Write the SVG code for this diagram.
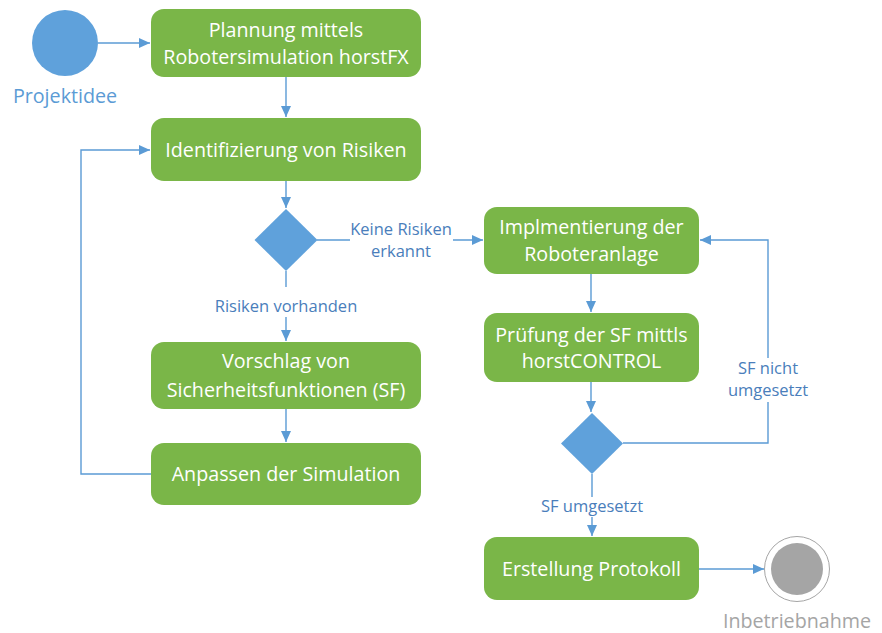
<svg xmlns="http://www.w3.org/2000/svg" width="882" height="633" viewBox="0 0 882 633">
<style>
.box{fill:#7AB648;}
.bt{font-family:"Open Sans","Noto Sans",sans-serif;font-size:19.7px;fill:#ffffff;text-anchor:middle;}
.dec{fill:#5FA1DB;}
.ln{fill:none;stroke:#5B9BD5;stroke-width:1.4;}
.lb{font-family:"Open Sans","Noto Sans",sans-serif;font-size:16.5px;fill:#4A7EBB;text-anchor:middle;}
.lbg{fill:#ffffff;}
</style>
<defs>
<marker id="ah" markerUnits="userSpaceOnUse" markerWidth="12" markerHeight="12" viewBox="0 0 12 12" refX="11" refY="6" orient="auto">
<path d="M0,1 L11,6 L0,11 Z" fill="#5B9BD5"/>
</marker>
</defs>
<g id="connectors">
<path class="ln" d="M98,43 H150" marker-end="url(#ah)"/>
<path class="ln" d="M286,77 V117" marker-end="url(#ah)"/>
<path class="ln" d="M286,181 V208" marker-end="url(#ah)"/>
<path class="ln" d="M317,240 H483" marker-end="url(#ah)"/>
<path class="ln" d="M286,271 V341" marker-end="url(#ah)"/>
<path class="ln" d="M286,409 V442" marker-end="url(#ah)"/>
<path class="ln" d="M151,474 H81 V150 H150" marker-end="url(#ah)"/>
<path class="ln" d="M591,274 V312" marker-end="url(#ah)"/>
<path class="ln" d="M591,382 V412" marker-end="url(#ah)"/>
<path class="ln" d="M623,443 H768 V240 H700" marker-end="url(#ah)"/>
<path class="ln" d="M592,474 V536" marker-end="url(#ah)"/>
<path class="ln" d="M699,569 H764" marker-end="url(#ah)"/>
<rect class="lbg" x="350" y="218" width="103" height="44"/>
<text class="lb" x="401" y="235">Keine Risiken</text>
<text class="lb" x="401" y="257">erkannt</text>
<rect class="lbg" x="210" y="287" width="152" height="30"/>
<text class="lb" x="286" y="312">Risiken vorhanden</text>
<rect class="lbg" x="719" y="358" width="98" height="44"/>
<text class="lb" x="768" y="374">SF nicht</text>
<text class="lb" x="768" y="396">umgesetzt</text>
<rect class="lbg" x="536" y="497" width="112" height="20"/>
<text class="lb" x="592" y="512">SF umgesetzt</text>
</g>
<g id="start">
<circle cx="65" cy="43" r="33" fill="#5FA1DB"/>
<text x="65" y="103" font-family="'Open Sans','Noto Sans',sans-serif" font-size="19.7" fill="#5B9BD5" text-anchor="middle">Projektidee</text>
</g>
<g id="planung">
<rect class="box" x="151" y="9" width="270" height="68" rx="13"/>
<text class="bt" x="286" y="36.5">Plannung mittels</text>
<text class="bt" x="286" y="63.5">Robotersimulation horstFX</text>
</g>
<g id="identifizierung">
<rect class="box" x="151" y="118" width="270" height="63" rx="13"/>
<text class="bt" x="286" y="157">Identifizierung von Risiken</text>
</g>
<g id="decision1">
<polygon class="dec" points="286,209 317.5,240 286,271 254.5,240"/>
</g>
<g id="vorschlag">
<rect class="box" x="151" y="342" width="270" height="67" rx="13"/>
<text class="bt" x="286" y="368">Vorschlag von</text>
<text class="bt" x="286" y="396.5">Sicherheitsfunktionen (SF)</text>
</g>
<g id="anpassen">
<rect class="box" x="151" y="443" width="270" height="62" rx="13"/>
<text class="bt" x="286" y="480.5">Anpassen der Simulation</text>
</g>
<g id="implementierung">
<rect class="box" x="484" y="207" width="215" height="67" rx="13"/>
<text class="bt" x="591.5" y="234">Implmentierung der</text>
<text class="bt" x="591.5" y="260.5">Roboteranlage</text>
</g>
<g id="pruefung">
<rect class="box" x="484" y="313" width="215" height="69" rx="13"/>
<text class="bt" x="591.5" y="341.5">Prüfung der SF mittls</text>
<text class="bt" x="591.5" y="368">horstCONTROL</text>
</g>
<g id="decision2">
<polygon class="dec" points="592,413 623,443.5 592,474 561,443.5"/>
</g>
<g id="erstellung">
<rect class="box" x="484" y="537" width="215" height="63" rx="13"/>
<text class="bt" x="591.5" y="576">Erstellung Protokoll</text>
</g>
<g id="end">
<circle cx="797" cy="569" r="32.5" fill="#ffffff" stroke="#A5A5A5" stroke-width="1"/>
<circle cx="797" cy="569" r="26" fill="#A5A5A5"/>
<text x="797" y="628" font-family="'Open Sans','Noto Sans',sans-serif" font-size="19.7" fill="#A5A5A5" text-anchor="middle">Inbetriebnahme</text>
</g>
</svg>
